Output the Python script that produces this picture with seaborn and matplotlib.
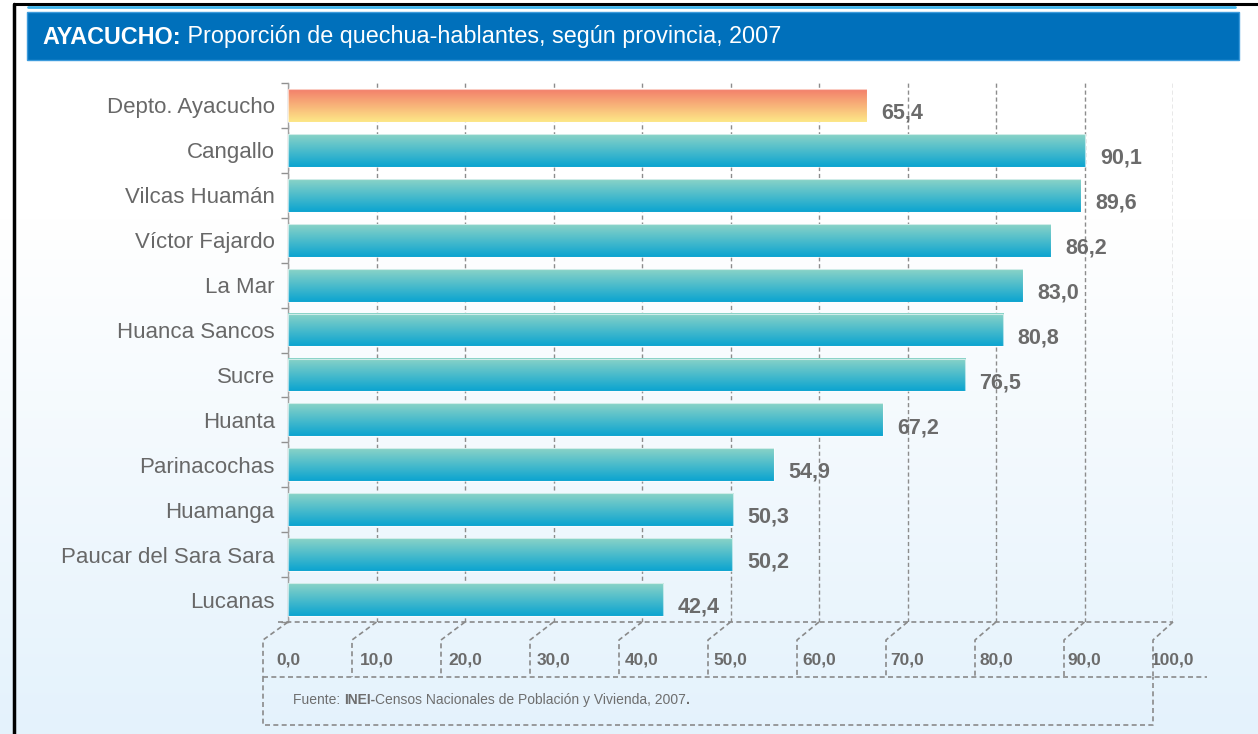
import numpy as np
import pandas as pd
import matplotlib
matplotlib.use("Agg")
import matplotlib.pyplot as plt
import seaborn as sns
from matplotlib.lines import Line2D
from matplotlib.patches import Rectangle
from matplotlib import font_manager, colors as mcolors

# ---------------- data ----------------
provinces = ["Depto. Ayacucho", "Cangallo", "Vilcas Huamán", "Víctor Fajardo", "La Mar",
             "Huanca Sancos", "Sucre", "Huanta", "Parinacochas", "Huamanga",
             "Paucar del Sara Sara", "Lucanas"]
values = [65.4, 90.1, 89.6, 86.2, 83.0, 80.8, 76.5, 67.2, 54.9, 50.3, 50.2, 42.4]
groups = ["Departamento"] + ["Provincia"] * 11
xticks = [0, 10, 20, 30, 40, 50, 60, 70, 80, 90, 100]
xtick_labels = ["0,0", "10,0", "20,0", "30,0", "40,0", "50,0", "60,0", "70,0", "80,0", "90,0", "100,0"]
title_bold = "AYACUCHO:"
title_rest = " Proporción de quechua-hablantes, según provincia, 2007"
source_pieces = [("Fuente: ", "normal"), ("INEI-", "bold"),
                 ("Censos Nacionales de Población y Vivienda, 2007", "normal"), (".", "bold")]

# ---------------- style ----------------
sns.set_theme(style="white")
names = {f.name for f in font_manager.fontManager.ttflist}
NARROW = "Liberation Sans Narrow" if "Liberation Sans Narrow" in names else "Liberation Sans"
plt.rcParams["font.family"] = ["Liberation Sans", "DejaVu Sans"]

W, H = 1258, 734
fig = plt.figure(figsize=(W / 100, H / 100), dpi=100)
fig.patch.set_facecolor("white")

# background gradient
bg = fig.add_axes([0, 0, 1, 1], zorder=-10)
top_c = np.array(mcolors.to_rgb("#ffffff"))
bot_c = np.array(mcolors.to_rgb("#e4f2fc"))
t = np.linspace(0, 1, 300)
t = np.clip((t - 0.3) / 0.7, 0, 1)
grad = top_c[None, :] * (1 - t[:, None]) + bot_c[None, :] * t[:, None]
bg.imshow(grad[:, None, :], aspect="auto", extent=[0, 1, 0, 1], origin="upper")
bg.set_axis_off()

def px2fig(x, y):
    return x / W, 1 - y / H

# border lines
fig.add_artist(Line2D([14 / W, 14 / W], [0, 1 - 4 / H], color="black", lw=2.5))
fig.add_artist(Line2D([14 / W, 1], [1 - 4 / H, 1 - 4 / H], color="black", lw=2.2))
fig.add_artist(Line2D([28 / W, 1235 / W], [1 - 7 / H, 1 - 7 / H], color="#3db3ea", lw=2))

# title bar
x0, y0 = px2fig(27, 60)
fig.add_artist(Rectangle((x0, y0), (1239 - 27) / W, 48 / H, transform=fig.transFigure,
                         facecolor="#0070bb", edgecolor="#3d9bdc", lw=1))

renderer = fig.canvas.get_renderer()

def seq_text(pieces, x_px, y_px, target_w, size, color, family, **kw):
    texts = []
    for s, wt in pieces:
        texts.append(fig.text(0, 0, s, fontsize=size, fontweight=wt, color=color,
                              family=family, va="center", ha="left", **kw))
    total = sum(tx.get_window_extent(renderer).width for tx in texts)
    scale = target_w / total
    x = x_px
    for tx in texts:
        tx.set_fontsize(size * scale)
        tx.set_position(px2fig(x, y_px))
        x += tx.get_window_extent(renderer).width
    return texts

seq_text([(title_bold, "bold"), (title_rest, "normal")], 42, 37, 736, 20, "white", NARROW)

# ---------------- main axes ----------------
ax = fig.add_axes([288 / W, (H - 622) / H, 885 / W, 539 / H])
ax.patch.set_alpha(0)
df = pd.DataFrame({"prov": provinces, "val": values, "grp": groups})
sns.barplot(data=df, x="val", y="prov", hue="grp", orient="h", dodge=False, width=0.73,
            palette={"Departamento": "#f6a173", "Provincia": "#49b8cc"}, saturation=1,
            legend=False, ax=ax, zorder=3)

grad_cols = {"Provincia": ("#8ad3c7", "#0ba4d0"), "Departamento": ("#f37f6b", "#fde887")}
for p in ax.patches:
    bb = p.get_bbox()
    if bb.width <= 0:
        continue
    idx = int(round((bb.y0 + bb.y1) / 2))
    c_top, c_bot = [np.array(mcolors.to_rgb(c)) for c in grad_cols[groups[idx]]]
    tt = np.linspace(0, 1, 100)[:, None]
    g = c_top * (1 - tt) + c_bot * tt
    ymin, ymax = min(bb.y0, bb.y1), max(bb.y0, bb.y1)
    im = ax.imshow(g[:, None, :], extent=[bb.x0, bb.x1, ymax, ymin], origin="upper",
                   aspect="auto", zorder=3)
    p.set_facecolor("none")
    p.set_edgecolor((1, 1, 1, 0.6))
    p.set_linewidth(0.8)
    p.set_zorder(4)

ax.set_xlim(0, 100)
ax.set_ylim(len(provinces) - 0.5, -0.5)
ax.set_aspect("auto")

# value labels
for i, v in enumerate(values):
    ax.annotate(f"{v:.1f}".replace(".", ","), xy=(v, i), xytext=(10.5, -5.5),
                textcoords="offset points", ha="left", va="center", fontsize=15.5,
                fontweight="bold", color="#6b6b6b", zorder=5)

# grid
ax.set_xticks(xticks)
ax.set_xticklabels(xtick_labels)
ax.grid(axis="x", color="#8c8c8c", linestyle=(0, (3, 2)), lw=1.0)
ax.set_axisbelow(True)
ax.tick_params(axis="x", length=0, pad=22, labelsize=12.5, labelcolor="#6b6b6b")
for lbl in ax.get_xticklabels():
    lbl.set_fontweight("bold")
    lbl.set_family(NARROW)
ax.tick_params(axis="y", which="major", length=0, pad=9.5, labelsize=16, labelcolor="#686868")
ax.set_yticks(np.arange(-0.5, len(provinces), 1), minor=True)
ax.tick_params(axis="y", which="minor", length=5, width=1, color="#909090", left=True)
ax.set_xlabel("")
ax.set_ylabel("")
for s in ["top", "right", "bottom"]:
    ax.spines[s].set_visible(False)
ax.spines["left"].set_color("#a0a0a0")
ax.spines["left"].set_linewidth(1)

# ---------------- floor (3D-like) ----------------
dash = dict(color="#8a8a8a", lw=1.2, linestyle=(0, (3, 2)))
inv = fig.transFigure.inverted()

def disp(v, y):
    return ax.transData.transform((v, y))

ybot = len(provinces) - 0.5
def add_px_line(pts):
    fpts = inv.transform(np.array(pts))
    fig.add_artist(Line2D(fpts[:, 0], fpts[:, 1], **dash))

bx0, by = disp(0, ybot)
bx100, _ = disp(100, ybot)
add_px_line([(bx0 - 10, by), (bx100, by)])
for v in xticks:
    bx, _ = disp(v, ybot)
    d = 25 - 0.05 * v
    add_px_line([(bx, by), (bx - d, by - 18), (bx - d, by - 55)])
add_px_line([(bx0 - 25, by - 55), (bx100 + 34, by - 55)])
add_px_line([(bx0 - 25, by - 55), (bx0 - 25, by - 103), (bx100 - 20, by - 103), (bx100 - 20, by - 55)])

# source
seq_text(source_pieces, 293, 700, 400, 10.5, "#6e6e6e", NARROW)

fig.savefig("out.png", dpi=100)
